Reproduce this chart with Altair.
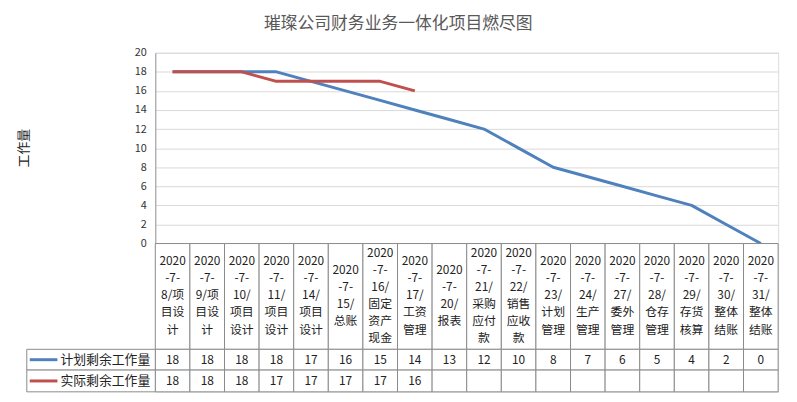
import altair as alt
import pandas as pd

categories = [
    "2020\n-7-\n8/项\n目设\n计",
    "2020\n-7-\n9/项\n目设\n计",
    "2020\n-7-\n10/\n项目\n设计",
    "2020\n-7-\n11/\n项目\n设计",
    "2020\n-7-\n14/\n项目\n设计",
    "2020\n-7-\n15/\n总账",
    "2020\n-7-\n16/\n固定\n资产\n现金",
    "2020\n-7-\n17/\n工资\n管理",
    "2020\n-7-\n20/\n报表",
    "2020\n-7-\n21/\n采购\n应付\n款",
    "2020\n-7-\n22/\n销售\n应收\n款",
    "2020\n-7-\n23/\n计划\n管理",
    "2020\n-7-\n24/\n生产\n管理",
    "2020\n-7-\n27/\n委外\n管理",
    "2020\n-7-\n28/\n仓存\n管理",
    "2020\n-7-\n29/\n存货\n核算",
    "2020\n-7-\n30/\n整体\n结账",
    "2020\n-7-\n31/\n整体\n结账",
]
plan = [18, 18, 18, 18, 17, 16, 15, 14, 13, 12, 10, 8, 7, 6, 5, 4, 2, 0]
actual = [18, 18, 18, 17, 17, 17, 17, 16]
series_names = ["计划剩余工作量", "实际剩余工作量"]
series_colors = ["#4F81BD", "#C0504D"]

FONT = "Noto Sans CJK SC"
BORDER = "#8a8a8a"
LINE_H = 17.3
FS_LABEL = 12
FS_NUM = 12

# ---- top line chart data
rows = []
for i, v in enumerate(plan):
    rows.append({"cat": categories[i], "series": series_names[0], "value": v})
for i, v in enumerate(actual):
    rows.append({"cat": categories[i], "series": series_names[1], "value": v})
line_df = pd.DataFrame(rows)

x_point = alt.X("cat:N", sort=categories, axis=None,
                scale=alt.Scale(type="point", padding=0.5))

lines = alt.Chart(line_df).mark_line(strokeWidth=3, strokeJoin="round").encode(
    x=x_point,
    y=alt.Y("value:Q", scale=alt.Scale(domain=[0, 20]),
            axis=alt.Axis(values=list(range(0, 21, 2)), grid=True, gridColor="#d9d9d9",
                          ticks=False, domain=True, domainColor="#9a9a9a",
                          labelFont=FONT, labelFontSize=11, labelColor="#333333",
                          labelPadding=9,
                          title="工作量", titleFont=FONT, titleFontSize=13,
                          titleFontWeight="normal", titleColor="#222222",
                          titleX=-133, titleY=96, titleAngle=-90,
                          titleAlign="center", titleBaseline="middle")),
    color=alt.Color("series:N", scale=alt.Scale(domain=series_names, range=series_colors),
                    legend=None),
    detail="series:N",
).properties(width=630, height=193)

# ---- bottom table
ROW_LABEL = (0, 107)
ROW_PLAN = (107, 128)
ROW_ACT = (128, 150)


def top_of_block(row, txt, fs):
    n = txt.count("\n") + 1
    mid = (row[0] + row[1]) / 2
    return mid - ((n - 1) * LINE_H + fs) / 2


label_cells = []
num_cells = []
for i, c in enumerate(categories):
    label_cells.append({"cat": c, "y0": ROW_LABEL[0], "y1": ROW_LABEL[1],
                        "yt": top_of_block(ROW_LABEL, c, FS_LABEL), "txt": c})
    num_cells.append({"cat": c, "y0": ROW_PLAN[0], "y1": ROW_PLAN[1],
                      "yt": (ROW_PLAN[0] + ROW_PLAN[1]) / 2, "txt": str(plan[i])})
    num_cells.append({"cat": c, "y0": ROW_ACT[0], "y1": ROW_ACT[1],
                      "yt": (ROW_ACT[0] + ROW_ACT[1]) / 2,
                      "txt": str(actual[i]) if i < len(actual) else ""})
label_df = pd.DataFrame(label_cells)
num_df = pd.DataFrame(num_cells)
cell_df = pd.concat([label_df, num_df], ignore_index=True)

x_band = alt.X("cat:N", sort=categories, axis=None,
               scale=alt.Scale(type="band", paddingInner=0, paddingOuter=0))
y_tab = alt.Y("y0:Q", axis=None, scale=alt.Scale(domain=[0, 150], reverse=True, nice=False))

rects = alt.Chart(cell_df).mark_rect(fill="white", stroke=BORDER, strokeWidth=1).encode(
    x=x_band, y=y_tab, y2="y1:Q")
label_text = alt.Chart(label_df).mark_text(
    font=FONT, fontSize=FS_LABEL, lineBreak="\n", lineHeight=LINE_H,
    baseline="top", align="center", color="#222222").encode(
    x=x_band, y=alt.Y("yt:Q"), text="txt:N")
num_text = alt.Chart(num_df).mark_text(
    font=FONT, fontSize=FS_NUM, baseline="middle", align="center", color="#222222").encode(
    x=x_band, y=alt.Y("yt:Q"), text="txt:N")

leg_df = pd.DataFrame({
    "series": series_names,
    "y0": [ROW_PLAN[0], ROW_ACT[0]],
    "y1": [ROW_PLAN[1], ROW_ACT[1]],
    "ym": [(ROW_PLAN[0] + ROW_PLAN[1]) / 2, (ROW_ACT[0] + ROW_ACT[1]) / 2],
})
leg_base = alt.Chart(leg_df)
leg_rect = leg_base.mark_rect(fill="white", stroke=BORDER, strokeWidth=1).encode(
    x=alt.value(-130), x2=alt.value(0), y=alt.Y("y0:Q"), y2="y1:Q")
leg_line = leg_base.mark_rule(strokeWidth=3).encode(
    x=alt.value(-127), x2=alt.value(-99), y=alt.Y("ym:Q"),
    color=alt.Color("series:N", scale=alt.Scale(domain=series_names, range=series_colors),
                    legend=None))
leg_text = leg_base.mark_text(font=FONT, fontSize=13, align="left", baseline="middle",
                              color="#222222").encode(
    x=alt.value(-96), y=alt.Y("ym:Q"), text="series:N")

table = alt.layer(rects, label_text, num_text, leg_rect, leg_line, leg_text).properties(
    width=630, height=150)

chart = alt.vconcat(lines, table, spacing=0, bounds="flush").properties(
    title=alt.TitleParams("璀璨公司财务业务一体化项目燃尽图", font=FONT, fontSize=17,
                          fontWeight="normal", color="#595959", anchor="middle", offset=14),
    padding={"left": 9, "top": 4, "right": 10, "bottom": 4},
).configure_view(stroke=None).configure(background="white")

chart.save("out.html", embed_options={"renderer": "svg", "actions": False})
